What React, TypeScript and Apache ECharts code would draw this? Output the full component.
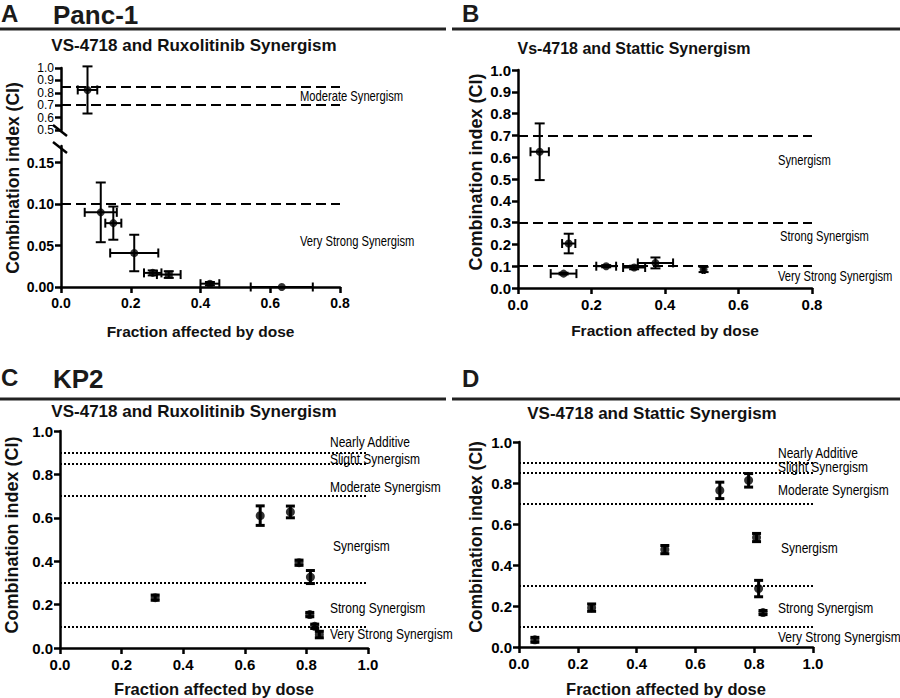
import React, { useEffect, useRef } from "react";
import * as echarts from "echarts";

const FONT = "'Liberation Sans', Arial, Helvetica, sans-serif";

// ---------- Panel A : Panc-1, VS-4718 + Ruxolitinib ----------
const aFa = [0.076, 0.114, 0.15, 0.21, 0.263, 0.309, 0.427, 0.633];
const aCI = [0.823, 0.09, 0.077, 0.041, 0.017, 0.015, 0.004, 0.0];
const aFaErr = [0.028, 0.046, 0.023, 0.069, 0.025, 0.034, 0.027, 0.089];
const aCIErr = [0.19, 0.036, 0.02, 0.022, 0.003, 0.004, 0.002, 0.0];
const aThresholds = [0.85, 0.7, 0.1];
const aZones = ["Moderate Synergism", "Very Strong Synergism"];
const aUpperTicks = [0.5, 0.6, 0.7, 0.8, 0.9, 1.0];
const aLowerTicks = [0, 0.05, 0.1, 0.15];

// ---------- Panel B : Panc-1, VS-4718 + Stattic ----------
const bFa = [0.059, 0.138, 0.124, 0.24, 0.316, 0.374, 0.505];
const bCI = [0.625, 0.204, 0.066, 0.1, 0.094, 0.115, 0.085];
const bFaErr = [0.025, 0.018, 0.035, 0.027, 0.03, 0.048, 0.003];
const bCIErr = [0.13, 0.045, 0.004, 0.005, 0.008, 0.025, 0.012];
const bThresholds = [0.7, 0.3, 0.1];
const bZones = ["Synergism", "Strong Synergism", "Very Strong Synergism"];

// ---------- Panel C : KP2, VS-4718 + Ruxolitinib ----------
const cFa = [0.65, 0.748, 0.776, 0.813, 0.309, 0.811, 0.827, 0.842];
const cCI = [0.61, 0.627, 0.393, 0.327, 0.232, 0.154, 0.1, 0.062];
const cCIErr = [0.045, 0.027, 0.012, 0.03, 0.012, 0.01, 0.01, 0.015];

// ---------- Panel D : KP2, VS-4718 + Stattic ----------
const dFa = [0.683, 0.781, 0.496, 0.808, 0.815, 0.247, 0.83, 0.054];
const dCI = [0.764, 0.813, 0.475, 0.534, 0.285, 0.192, 0.168, 0.035];
const dCIErr = [0.04, 0.033, 0.02, 0.02, 0.04, 0.018, 0.01, 0.012];

const kpThresholds = [0.9, 0.85, 0.7, 0.3, 0.1];
const kpZones = [
  "Nearly Additive",
  "Slight Synergism",
  "Moderate Synergism",
  "Synergism",
  "Strong Synergism",
  "Very Strong Synergism",
];

const xTitle = "Fraction affected by dose";
const yTitle = "Combination index (CI)";

function axisBase(fontSize: number, bold = true, margin = 7) {
  return {
    type: "value",
    axisLine: { show: true, onZero: false, lineStyle: { color: "#000", width: 2.5 } },
    axisTick: { show: true, length: 6, lineStyle: { color: "#000", width: 2.5 } },
    axisLabel: {
      color: "#000",
      fontSize,
      fontWeight: bold ? "bold" : "normal",
      fontFamily: FONT,
      margin,
      showMinLabel: true,
      showMaxLabel: true,
    },
    splitLine: { show: false },
  };
}

function xAxisCfg(grid: number, max: number, fontSize: number, nameSize: number, nameGap: number, show = true) {
  const b: any = axisBase(fontSize, true, 9);
  return {
    ...b,
    show,
    gridIndex: grid,
    min: 0,
    max,
    interval: 0.2,
    axisLabel: { ...b.axisLabel, formatter: (v: number) => v.toFixed(1) },
    name: show ? xTitle : "",
    nameLocation: "middle",
    nameGap,
    nameTextStyle: { color: "#111", fontWeight: "bold", fontSize: nameSize, fontFamily: FONT },
  };
}

function errorBars(xi: number, yi: number, rows: number[][], capV: number, capH: number, width: number) {
  return {
    type: "custom",
    xAxisIndex: xi,
    yAxisIndex: yi,
    clip: false,
    silent: true,
    z: 2,
    encode: { x: 0, y: 1 },
    data: rows,
    renderItem: (_p: any, api: any) => {
      const x = api.value(0);
      const y = api.value(1);
      const ex = api.value(2);
      const ey = api.value(3);
      const style = { stroke: "#000", lineWidth: width };
      const ch: any[] = [];
      const seg = (x1: number, y1: number, x2: number, y2: number) =>
        ch.push({ type: "line", shape: { x1, y1, x2, y2 }, style });
      if (ey > 0) {
        const t = api.coord([x, y + ey]);
        const b = api.coord([x, y - ey]);
        seg(t[0], t[1], b[0], b[1]);
        seg(t[0] - capV, t[1], t[0] + capV, t[1]);
        seg(b[0] - capV, b[1], b[0] + capV, b[1]);
      }
      if (ex > 0) {
        const l = api.coord([x - ex, y]);
        const r = api.coord([x + ex, y]);
        seg(l[0], l[1], r[0], r[1]);
        seg(l[0], l[1] - capH, l[0], l[1] + capH);
        seg(r[0], r[1] - capH, r[0], r[1] + capH);
      }
      return { type: "group", children: ch };
    },
  };
}

function markLines(values: number[], dash: number[]) {
  return {
    silent: true,
    animation: false,
    symbol: ["none", "none"],
    label: { show: false },
    lineStyle: { color: "#000", width: 2, type: dash },
    data: values.map((v) => ({ yAxis: v })),
  };
}

function scatter(xi: number, yi: number, pts: any[], size: number, lines?: any) {
  const s: any = {
    type: "scatter",
    xAxisIndex: xi,
    yAxisIndex: yi,
    symbol: "circle",
    symbolSize: size,
    itemStyle: { color: "#000" },
    clip: false,
    silent: true,
    z: 3,
    data: pts,
  };
  if (lines) s.markLine = lines;
  return s;
}

function txt(text: string, x: number, y: number, o: any = {}) {
  return {
    type: "text",
    x,
    y,
    rotation: o.rotation || 0,
    scaleX: o.scaleX || 1,
    silent: true,
    style: {
      text,
      fill: o.fill || "#000",
      font: `${o.weight || "normal"} ${o.size || 12}px ${FONT}`,
      align: o.align || "left",
      verticalAlign: "middle",
    },
  };
}

function rule(x1: number, x2: number, y: number) {
  return {
    type: "line",
    silent: true,
    shape: { x1, y1: y, x2, y2: y },
    style: { stroke: "#222", lineWidth: 3 },
  };
}

function slash(x1: number, y1: number, x2: number, y2: number) {
  return {
    type: "line",
    silent: true,
    shape: { x1, y1, x2, y2 },
    style: { stroke: "#000", lineWidth: 2.5 },
  };
}

function buildOption() {
  const DASH = [10, 5];
  const DOT = [2, 2];

  const aRows = aFa.map((v, i) => [v, aCI[i], aFaErr[i], aCIErr[i]]);
  const aUpRows = aRows.filter((r) => r[1] >= 0.5);
  const aLoRows = aRows.filter((r) => r[1] < 0.5);
  const aLoPts = aLoRows.map((r, i) =>
    i === 4 ? { value: [r[0], r[1]], symbol: "rect", symbolSize: 8 } : [r[0], r[1]]
  );
  const bRows = bFa.map((v, i) => [v, bCI[i], bFaErr[i], bCIErr[i]]);
  const cRows = cFa.map((v, i) => [v, cCI[i], 0, cCIErr[i]]);
  const dRows = dFa.map((v, i) => [v, dCI[i], 0, dCIErr[i]]);

  const aUpY: any = axisBase(12, false, 7);
  const aLoY: any = axisBase(14, true, 7);
  const bY: any = axisBase(15, true, 7);
  const cY: any = axisBase(15, true, 7);
  const dY: any = axisBase(15, true, 7);

  const zoneA = { size: 14, scaleX: 0.8 };
  const zoneK = { size: 15, scaleX: 0.8 };

  return {
    animation: false,
    backgroundColor: "#fff",
    grid: [
      { left: 61, top: 68, width: 279, height: 62 },
      { left: 61, top: 146, width: 279, height: 141 },
      { left: 518, top: 70, width: 294, height: 218 },
      { left: 60, top: 431, width: 308, height: 217 },
      { left: 519, top: 442, width: 294, height: 205 },
    ],
    xAxis: [
      xAxisCfg(0, 0.8, 14, 15.5, 36, false),
      xAxisCfg(1, 0.8, 14, 15.5, 36),
      xAxisCfg(2, 0.8, 15, 15.5, 34),
      xAxisCfg(3, 1.0, 15, 16.5, 32),
      xAxisCfg(4, 1.0, 15, 16.5, 33),
    ],
    yAxis: [
      {
        ...aUpY,
        gridIndex: 0,
        min: 0.5,
        max: 1.0,
        interval: 0.1,
        axisTick: { ...aUpY.axisTick, customValues: aUpperTicks },
        axisLabel: {
          ...aUpY.axisLabel,
          lineHeight: 12,
          hideOverlap: false,
          customValues: aUpperTicks,
          formatter: (v: number) => v.toFixed(1),
        },
      },
      {
        ...aLoY,
        gridIndex: 1,
        min: 0,
        max: 0.17,
        interval: 0.05,
        axisTick: { ...aLoY.axisTick, customValues: aLowerTicks },
        axisLabel: {
          ...aLoY.axisLabel,
          customValues: aLowerTicks,
          formatter: (v: number) => v.toFixed(2),
        },
      },
      {
        ...bY,
        gridIndex: 2,
        min: 0,
        max: 1.0,
        interval: 0.1,
        axisLabel: { ...bY.axisLabel, formatter: (v: number) => v.toFixed(1) },
      },
      {
        ...cY,
        gridIndex: 3,
        min: 0,
        max: 1.0,
        interval: 0.2,
        axisLabel: { ...cY.axisLabel, formatter: (v: number) => v.toFixed(1) },
      },
      {
        ...dY,
        gridIndex: 4,
        min: 0,
        max: 1.0,
        interval: 0.2,
        axisLabel: { ...dY.axisLabel, formatter: (v: number) => v.toFixed(1) },
      },
    ],
    series: [
      errorBars(0, 0, aUpRows, 5, 4.5, 2),
      scatter(0, 0, aUpRows.map((r) => [r[0], r[1]]), 8, markLines(aThresholds.filter((t) => t >= 0.5), DASH)),
      errorBars(1, 1, aLoRows, 5, 4.5, 2),
      scatter(1, 1, aLoPts, 8, markLines(aThresholds.filter((t) => t < 0.5), DASH)),
      errorBars(2, 2, bRows, 5, 4.5, 2),
      scatter(2, 2, bRows.map((r) => [r[0], r[1]]), 8, markLines(bThresholds, DASH)),
      errorBars(3, 3, cRows, 4.5, 4, 3),
      scatter(3, 3, cRows.map((r) => [r[0], r[1]]), 9, markLines(kpThresholds, DOT)),
      errorBars(4, 4, dRows, 4.5, 4, 3),
      scatter(4, 4, dRows.map((r) => [r[0], r[1]]), 9, markLines(kpThresholds, DOT)),
    ],
    graphic: [
      // panel headers
      txt("A", 1, 13, { size: 24, weight: "bold", fill: "#1a1a1a" }),
      txt("Panc-1", 53, 15, { size: 26, weight: "bold", fill: "#1a1a1a" }),
      txt("B", 462, 13, { size: 24, weight: "bold", fill: "#1a1a1a" }),
      txt("C", 1, 377, { size: 24, weight: "bold", fill: "#1a1a1a" }),
      txt("KP2", 53, 379, { size: 26, weight: "bold", fill: "#1a1a1a" }),
      txt("D", 462, 378, { size: 24, weight: "bold", fill: "#1a1a1a" }),
      rule(0, 446, 29),
      rule(452, 900, 29),
      rule(0, 446, 399),
      rule(452, 900, 399),
      // chart titles
      txt("VS-4718 and Ruxolitinib Synergism", 194, 45, { size: 17, weight: "bold", align: "center", fill: "#111" }),
      txt("Vs-4718 and Stattic Synergism", 634, 48, { size: 16, weight: "bold", align: "center", fill: "#111" }),
      txt("VS-4718 and Ruxolitinib Synergism", 194, 411, { size: 17, weight: "bold", align: "center", fill: "#111" }),
      txt("VS-4718 and Stattic Synergism", 652, 413, { size: 17, weight: "bold", align: "center", fill: "#111" }),
      // y titles
      txt(yTitle, 13, 178, { size: 17.5, weight: "bold", align: "center", rotation: Math.PI / 2, fill: "#111" }),
      txt(yTitle, 476, 172, { size: 18, weight: "bold", align: "center", rotation: Math.PI / 2, fill: "#111" }),
      txt(yTitle, 12, 535, { size: 18, weight: "bold", align: "center", rotation: Math.PI / 2, fill: "#111" }),
      txt(yTitle, 476, 537, { size: 17.5, weight: "bold", align: "center", rotation: Math.PI / 2, fill: "#111" }),
      // axis break marks (panel A)
      slash(53, 125, 67, 136),
      slash(53, 142, 67, 153),
      // zone labels A
      txt(aZones[0], 300, 97, zoneA),
      txt(aZones[1], 300, 242, zoneA),
      // zone labels B
      txt(bZones[0], 778, 161, zoneA),
      txt(bZones[1], 780, 237, zoneA),
      txt(bZones[2], 778, 277, zoneA),
      // zone labels C
      txt(kpZones[0], 330, 442, zoneK),
      txt(kpZones[1], 330, 459, zoneK),
      txt(kpZones[2], 330, 487, zoneK),
      txt(kpZones[3], 333, 546, zoneK),
      txt(kpZones[4], 330, 608, zoneK),
      txt(kpZones[5], 330, 634, zoneK),
      // zone labels D
      txt(kpZones[0], 778, 453, zoneK),
      txt(kpZones[1], 778, 467, zoneK),
      txt(kpZones[2], 778, 490, zoneK),
      txt(kpZones[3], 781, 548, zoneK),
      txt(kpZones[4], 778, 608, zoneK),
      txt(kpZones[5], 778, 637, zoneK),
    ],
  };
}

export default function App() {
  const ref = useRef<HTMLDivElement>(null);
  useEffect(() => {
    if (!ref.current) return;
    const chart = echarts.init(ref.current, null, { renderer: "svg" });
    chart.setOption(buildOption() as any);
    return () => chart.dispose();
  }, []);
  return (
    <div
      ref={ref}
      style={{ position: "fixed", left: 0, top: 0, width: 900, height: 698, background: "#fff" }}
    />
  );
}
